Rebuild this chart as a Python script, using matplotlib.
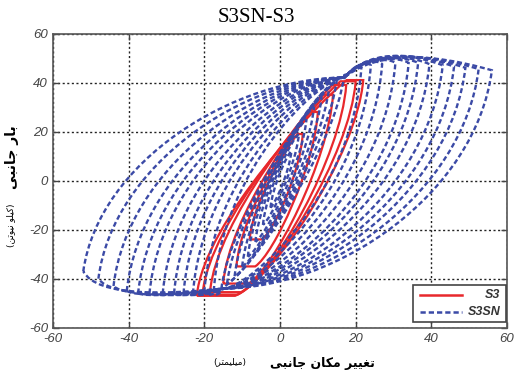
import matplotlib
matplotlib.use("Agg")
import matplotlib.pyplot as plt
from matplotlib.path import Path
from matplotlib.patches import PathPatch, Rectangle
from matplotlib.lines import Line2D

# S3SN cycles (blue, dashed): peak displacement / force for each loop
SN_XP = [56, 52.5, 49, 46, 43, 39.5, 36.5, 34, 30.5, 27, 24, 21.5,
         17, 15, 13, 11, 9, 7, 5, 3]
SN_FP = [45, 45.5, 46, 46.5, 47, 47.5, 48, 48, 48, 47.5, 47, 46,
         43, 41, 38, 34, 30, 25, 19, 12]
SN_XN = [-52, -48, -44, -40.5, -37.5, -34.5, -31, -28, -25.5, -23, -20, -17.5,
         -15.5, -14, -12, -10, -8.5, -6.5, -4.5, -2.5]
SN_FN = [-37, -40, -43, -45, -46, -46, -46, -46, -46, -46, -45.5, -45,
         -44, -42, -39, -35, -31, -25, -18, -11]

# S3 cycles (red, solid)
S3_XP = [22, 20, 17.5, 14, 10, 6]
S3_FP = [41, 40.5, 39, 35, 28, 19]
S3_XN = [-22, -20.5, -18.5, -15, -11.5, -8]
S3_FN = [-47, -46.5, -45.5, -42, -35, -24]

TICKS = [-60, -40, -20, 0, 20, 40, 60]
TITLE = "S3SN-S3"
YLABEL = "بار جانبی"
YUNIT = "(کیلو نیوتن)"
XLABEL = "تغییر مکان جانبی"
XUNIT = "(میلیمتر)"
LEGEND = ["S3", "S3SN"]

BLUE = "#3b4aa6"
RED = "#e8282c"

# Arabic-script presentation forms (iso, final, initial, medial)
FORMS = {
    "ا": ("\uFE8D", "\uFE8E", None, None),
    "ب": ("\uFE8F", "\uFE90", "\uFE91", "\uFE92"),
    "ت": ("\uFE95", "\uFE96", "\uFE97", "\uFE98"),
    "ج": ("\uFE9D", "\uFE9E", "\uFE9F", "\uFEA0"),
    "ر": ("\uFEAD", "\uFEAE", None, None),
    "غ": ("\uFECD", "\uFECE", "\uFECF", "\uFED0"),
    "ل": ("\uFEDD", "\uFEDE", "\uFEDF", "\uFEE0"),
    "م": ("\uFEE1", "\uFEE2", "\uFEE3", "\uFEE4"),
    "ن": ("\uFEE5", "\uFEE6", "\uFEE7", "\uFEE8"),
    "و": ("\uFEED", "\uFEEE", None, None),
    "ی": ("\uFBFC", "\uFBFD", "\uFBFE", "\uFBFF"),
    "ک": ("\uFB8E", "\uFB8F", "\uFB90", "\uFB91"),
}


def shape(s):
    out = []
    for i, ch in enumerate(s):
        if ch not in FORMS:
            out.append(ch)
            continue
        prev = s[i - 1] if i > 0 else ""
        nxt = s[i + 1] if i + 1 < len(s) else ""
        jp = prev in FORMS and FORMS[prev][2] is not None
        jn = FORMS[ch][2] is not None and nxt in FORMS
        iso, fin, ini, med = FORMS[ch]
        out.append(med if (jp and jn) else fin if jp else ini if jn else iso)
    return "".join(reversed(out)).translate(str.maketrans("()", ")("))


def blue_loop(xn, fn, xp, fp):
    C4 = Path.CURVE4
    if xp > 17:
        tx, ty, bx, by = 17, 42, -15, -44
        k = 0.16 + 0.26 * min(1, (xp - 17) / 39)  # outer loops bow more
        dx, dy = tx - xn, ty - fn
        v = [(xn, fn), (xn + 0.06 * dx, fn + 0.57 * dy), (tx - k * dx, ty), (tx, ty)]
        L = xp - tx
        v += [(tx + 0.3 * L, min(ty + 0.55 * L, 57)), (xp - 0.15 * L, fp + 2.5), (xp, fp)]
        dx, dy = xp - bx, fp - by
        v += [(xp - 0.06 * dx, fp - 0.57 * dy), (bx + k * dx, by), (bx, by)]
        L = bx - xn
        v += [(bx - 0.4 * L, -46.5), (xn + 0.1 * L, -47.5), (xn, fn)]
    else:
        dx, dy = xp - xn, fp - fn
        v = [(xn, fn), (xn + 0.08 * dx, fn + 0.35 * dy), (xp - 0.22 * dx, fp - 0.06 * dy), (xp, fp),
             (xp - 0.08 * dx, fp - 0.35 * dy), (xn + 0.22 * dx, fn + 0.06 * dy), (xn, fn)]
    codes = [Path.MOVETO] + [C4] * (len(v) - 1)
    return Path(v, codes)


def red_loop(xn, fn, xp, fp):
    w = xp - xn
    tx, ty = xp - 0.1 * w, fp
    bx, by = xn + 0.23 * w, fn
    dx, dy = tx - xn, ty - fn
    v = [(xn, fn), (xn + 0.05 * dx, fn + 0.35 * dy), (tx - 0.18 * dx, ty - 0.1 * dy), (tx, ty),
         (xp, fp)]
    dx, dy = xp - bx, fp - by
    v += [(xp - 0.05 * dx, fp - 0.35 * dy), (bx + 0.3 * dx, by + 0.08 * dy), (bx, by), (xn, fn)]
    codes = [Path.MOVETO, Path.CURVE4, Path.CURVE4, Path.CURVE4, Path.LINETO,
             Path.CURVE4, Path.CURVE4, Path.CURVE4, Path.LINETO]
    return Path(v, codes)


fig = plt.figure(figsize=(5.15, 3.73), dpi=100, facecolor="white")
ax = fig.add_axes([53 / 515, 1 - 327.7 / 373, 454 / 515, 294.2 / 373])

for xn, fn, xp, fp in zip(S3_XN, S3_FN, S3_XP, S3_FP):
    ax.add_patch(PathPatch(red_loop(xn, fn, xp, fp), fill=False, edgecolor=RED,
                           lw=1.6, zorder=3))
for xn, fn, xp, fp in zip(SN_XN, SN_FN, SN_XP, SN_FP):
    ax.add_patch(PathPatch(blue_loop(xn, fn, xp, fp), fill=False, edgecolor=BLUE,
                           lw=1.7, linestyle=(0, (2.1, 1.2)), zorder=4))

ax.set_xlim(-60, 60)
ax.set_ylim(-60, 60)
ax.set_xticks(TICKS)
ax.set_yticks(TICKS)
ax.set_xticklabels([str(t) for t in TICKS], fontstyle="italic", family="Liberation Sans",
                   fontsize=9.5, color="#444")
ax.set_yticklabels([str(t) for t in TICKS], fontstyle="italic", family="Liberation Sans",
                   fontsize=9.5, color="#444")
ax.tick_params(direction="in", length=4, top=True, right=True, color="#444",
               pad=3.5, width=1)
ax.grid(True, linestyle=(0, (1.5, 1.8)), color="#222", linewidth=1.0)
for sp in ax.spines.values():
    sp.set_color("#555")
    sp.set_linewidth(1.2)

# legend box (drawn by hand so the labels sit right-aligned as in the source)
ax.add_patch(Rectangle((0.793, 0.019), 0.205, 0.126, transform=ax.transAxes,
                       facecolor="white", edgecolor="#444", lw=1.2, zorder=6))
ax.add_line(Line2D([0.808, 0.901], [0.111, 0.111], transform=ax.transAxes,
                   color=RED, lw=1.8, zorder=7))
ax.add_line(Line2D([0.808, 0.901], [0.053, 0.053], transform=ax.transAxes,
                   color=BLUE, lw=1.8, linestyle=(0, (2.1, 1.2)), zorder=7))
for lab, y in zip(LEGEND, [0.111, 0.053]):
    ax.text(0.985, y, lab, transform=ax.transAxes, ha="right", va="center",
            fontsize=9, fontweight="bold", fontstyle="italic", family="Liberation Sans",
            color="#333", zorder=8)

fig.text(256 / 515, 1 - 17.7 / 373, TITLE, family="Liberation Serif", fontsize=15,
         ha="center", va="center")
fig.text(12 / 515, 1 - 157 / 373, shape(YLABEL), rotation=90, ha="center", va="center",
         fontsize=10, fontweight="bold", family="DejaVu Sans")
fig.text(11 / 515, 1 - 225 / 373, shape(YUNIT), rotation=90, ha="center", va="center",
         fontsize=6.5, family="DejaVu Sans")
fig.text(322 / 515, 1 - 363 / 373, shape(XLABEL), ha="center", va="center",
         fontsize=9, fontweight="bold", family="DejaVu Sans")
fig.text(230 / 515, 1 - 362 / 373, shape(XUNIT), ha="center", va="center",
         fontsize=6.5, family="DejaVu Sans")

fig.savefig("out.png", dpi=100, facecolor="white")
